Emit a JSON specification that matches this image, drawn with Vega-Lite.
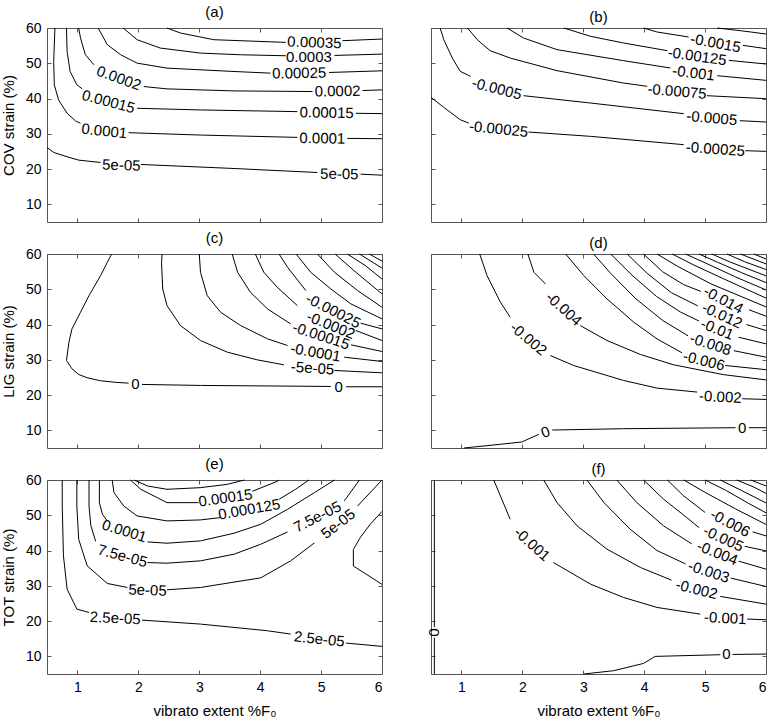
{
"$schema": "https://vega.github.io/schema/vega-lite/v6.json",
"padding": {"left": 0, "top": 4, "right": 4, "bottom": 4},
"config": {
  "font": "Liberation Sans",
  "view": {"stroke": "#555", "strokeWidth": 1},
  "axis": {"grid": false, "domain": false, "tickColor": "#555", "tickSize": -4, "labelFontSize": 14, "labelColor": "#000", "labelPadding": 10, "titleFontSize": 15, "titleFontWeight": "normal", "titleColor": "#000", "titlePadding": 9},
  "title": {"fontSize": 15, "fontWeight": "normal", "offset": 1}
},
"datasets": {
"lines": [
{"p":"a","s":"a1","x":0.5,"y":26.14},{"p":"a","s":"a1","x":0.61,"y":24.72},{"p":"a","s":"a1","x":0.83,"y":23.49},{"p":"a","s":"a1","x":1.02,"y":22.54},{"p":"a","s":"a1","x":1.38,"y":21.88},
{"p":"a","s":"a2","x":2.04,"y":21.31},{"p":"a","s":"a2","x":3.57,"y":20.17},{"p":"a","s":"a2","x":4.94,"y":19.03},
{"p":"a","s":"a3","x":5.65,"y":18.56},{"p":"a","s":"a3","x":6,"y":18.27},
{"p":"a","s":"a4","x":0.63,"y":60},{"p":"a","s":"a4","x":0.61,"y":50.52},{"p":"a","s":"a4","x":0.62,"y":43.88},{"p":"a","s":"a4","x":0.69,"y":39.61},{"p":"a","s":"a4","x":0.83,"y":35.82},{"p":"a","s":"a4","x":0.97,"y":33.64},{"p":"a","s":"a4","x":1.05,"y":32.97},
{"p":"a","s":"a5","x":1.84,"y":30.32},{"p":"a","s":"a5","x":3.02,"y":29.65},{"p":"a","s":"a5","x":4.61,"y":28.99},
{"p":"a","s":"a6","x":5.43,"y":28.71},{"p":"a","s":"a6","x":6,"y":28.61},
{"p":"a","s":"a7","x":0.82,"y":60},{"p":"a","s":"a7","x":0.83,"y":53.36},{"p":"a","s":"a7","x":0.88,"y":47.67},{"p":"a","s":"a7","x":0.99,"y":43.88},{"p":"a","s":"a7","x":1.08,"y":42.74},
{"p":"a","s":"a8","x":1.98,"y":37.24},{"p":"a","s":"a8","x":3.02,"y":36.77},{"p":"a","s":"a8","x":4.61,"y":36.29},
{"p":"a","s":"a9","x":5.57,"y":35.82},{"p":"a","s":"a9","x":6,"y":35.72},
{"p":"a","s":"a10","x":1.02,"y":60},{"p":"a","s":"a10","x":1.05,"y":57.16},{"p":"a","s":"a10","x":1.13,"y":52.41},{"p":"a","s":"a10","x":1.27,"y":49.57},
{"p":"a","s":"a11","x":2.09,"y":43.4},{"p":"a","s":"a11","x":2.47,"y":42.74},{"p":"a","s":"a11","x":3.57,"y":42.17},{"p":"a","s":"a11","x":4.86,"y":41.98},
{"p":"a","s":"a12","x":5.68,"y":42.27},{"p":"a","s":"a12","x":6,"y":42.46},
{"p":"a","s":"a13","x":1.34,"y":60},{"p":"a","s":"a13","x":1.49,"y":55.26},{"p":"a","s":"a13","x":1.71,"y":52.41},{"p":"a","s":"a13","x":1.98,"y":50.04},{"p":"a","s":"a13","x":2.47,"y":48.62},{"p":"a","s":"a13","x":3.57,"y":47.67},{"p":"a","s":"a13","x":4.17,"y":47.2},
{"p":"a","s":"a14","x":5.13,"y":47.39},{"p":"a","s":"a14","x":6,"y":47.86},
{"p":"a","s":"a15","x":1.75,"y":60},{"p":"a","s":"a15","x":1.98,"y":56.68},{"p":"a","s":"a15","x":2.36,"y":54.31},{"p":"a","s":"a15","x":3.02,"y":52.89},{"p":"a","s":"a15","x":3.68,"y":52.41},{"p":"a","s":"a15","x":4.42,"y":52.13},
{"p":"a","s":"a16","x":5.22,"y":52.22},{"p":"a","s":"a16","x":6,"y":52.6},
{"p":"a","s":"a17","x":2.47,"y":60},{"p":"a","s":"a17","x":2.69,"y":58.58},{"p":"a","s":"a17","x":3.24,"y":56.68},{"p":"a","s":"a17","x":4.42,"y":55.92},
{"p":"a","s":"a18","x":5.35,"y":56.4},{"p":"a","s":"a18","x":6,"y":56.87},

{"p":"b","s":"b1","x":0.5,"y":40.34},{"p":"b","s":"b1","x":0.71,"y":37.5},{"p":"b","s":"b1","x":0.98,"y":34.0},{"p":"b","s":"b1","x":1.12,"y":33.06},
{"p":"b","s":"b2","x":2.1,"y":30.51},{"p":"b","s":"b2","x":3.12,"y":29.28},{"p":"b","s":"b2","x":4.65,"y":26.92},
{"p":"b","s":"b3","x":5.66,"y":25.22},{"p":"b","s":"b3","x":6,"y":25.03},
{"p":"b","s":"b4","x":0.65,"y":60},{"p":"b","s":"b4","x":0.71,"y":56.69},{"p":"b","s":"b4","x":0.85,"y":51.49},{"p":"b","s":"b4","x":0.98,"y":47.71},{"p":"b","s":"b4","x":1.15,"y":46.29},
{"p":"b","s":"b5","x":2.02,"y":40.81},{"p":"b","s":"b5","x":3.12,"y":38.73},{"p":"b","s":"b5","x":4.65,"y":35.71},
{"p":"b","s":"b6","x":5.57,"y":33.72},{"p":"b","s":"b6","x":6,"y":33.35},
{"p":"b","s":"b7","x":1.1,"y":60},{"p":"b","s":"b7","x":1.26,"y":56.69},{"p":"b","s":"b7","x":1.47,"y":53.57},{"p":"b","s":"b7","x":1.8,"y":51.49},{"p":"b","s":"b7","x":2.57,"y":47.9},{"p":"b","s":"b7","x":3.66,"y":44.4},{"p":"b","s":"b7","x":4.05,"y":43.46},
{"p":"b","s":"b8","x":5.03,"y":40.81},{"p":"b","s":"b8","x":6,"y":39.96},
{"p":"b","s":"b9","x":1.75,"y":60},{"p":"b","s":"b9","x":2.02,"y":57.16},{"p":"b","s":"b9","x":2.57,"y":53.86},{"p":"b","s":"b9","x":3.66,"y":50.74},{"p":"b","s":"b9","x":4.43,"y":48.66},
{"p":"b","s":"b10","x":5.2,"y":46.48},{"p":"b","s":"b10","x":6,"y":45.16},
{"p":"b","s":"b11","x":2.68,"y":60},{"p":"b","s":"b11","x":3.12,"y":57.64},{"p":"b","s":"b11","x":3.66,"y":55.75},{"p":"b","s":"b11","x":4.38,"y":53.57},
{"p":"b","s":"b12","x":5.39,"y":50.83},{"p":"b","s":"b12","x":6,"y":49.79},
{"p":"b","s":"b13","x":3.99,"y":60},{"p":"b","s":"b13","x":4.21,"y":58.87},{"p":"b","s":"b13","x":4.73,"y":57.45},
{"p":"b","s":"b14","x":5.62,"y":55.09},{"p":"b","s":"b14","x":6,"y":54.14},
{"p":"b","s":"b15","x":5.2,"y":60},{"p":"b","s":"b15","x":5.6,"y":59.2},{"p":"b","s":"b15","x":6,"y":58.3},

{"p":"c","s":"c1","x":1.56,"y":60},{"p":"c","s":"c1","x":1.49,"y":57.64},{"p":"c","s":"c1","x":1.38,"y":53.87},{"p":"c","s":"c1","x":1.19,"y":48.21},{"p":"c","s":"c1","x":1.05,"y":43.49},{"p":"c","s":"c1","x":0.91,"y":38.77},{"p":"c","s":"c1","x":0.86,"y":35.0},{"p":"c","s":"c1","x":0.82,"y":29.81},{"p":"c","s":"c1","x":0.91,"y":27.45},{"p":"c","s":"c1","x":1.02,"y":25.85},{"p":"c","s":"c1","x":1.16,"y":24.91},{"p":"c","s":"c1","x":1.38,"y":24.06},{"p":"c","s":"c1","x":1.65,"y":23.58},{"p":"c","s":"c1","x":1.84,"y":23.4},
{"p":"c","s":"c2","x":2.06,"y":23.02},{"p":"c","s":"c2","x":3.02,"y":22.74},{"p":"c","s":"c2","x":5.16,"y":22.45},
{"p":"c","s":"c3","x":5.41,"y":22.36},{"p":"c","s":"c3","x":6,"y":22.36},
{"p":"c","s":"c4","x":2.39,"y":60},{"p":"c","s":"c4","x":2.38,"y":57.64},{"p":"c","s":"c4","x":2.4,"y":50.09},{"p":"c","s":"c4","x":2.47,"y":45.38},{"p":"c","s":"c4","x":2.69,"y":39.72},{"p":"c","s":"c4","x":3.02,"y":35.47},{"p":"c","s":"c4","x":3.46,"y":32.17},{"p":"c","s":"c4","x":3.95,"y":30.0},{"p":"c","s":"c4","x":4.39,"y":28.58},
{"p":"c","s":"c5","x":5.22,"y":26.98},{"p":"c","s":"c5","x":6,"y":26.32},
{"p":"c","s":"c6","x":3.0,"y":60},{"p":"c","s":"c6","x":3.02,"y":54.81},{"p":"c","s":"c6","x":3.13,"y":48.21},{"p":"c","s":"c6","x":3.35,"y":43.49},{"p":"c","s":"c6","x":3.68,"y":39.72},{"p":"c","s":"c6","x":4.12,"y":35.94},{"p":"c","s":"c6","x":4.45,"y":34.06},
{"p":"c","s":"c7","x":5.38,"y":30.75},{"p":"c","s":"c7","x":6,"y":29.53},
{"p":"c","s":"c8","x":3.54,"y":60},{"p":"c","s":"c8","x":3.63,"y":54.81},{"p":"c","s":"c8","x":3.84,"y":49.15},{"p":"c","s":"c8","x":4.12,"y":44.43},{"p":"c","s":"c8","x":4.5,"y":40.19},
{"p":"c","s":"c9","x":5.49,"y":34.25},{"p":"c","s":"c9","x":6,"y":32.36},
{"p":"c","s":"c10","x":3.92,"y":60},{"p":"c","s":"c10","x":4.06,"y":54.81},{"p":"c","s":"c10","x":4.28,"y":50.57},{"p":"c","s":"c10","x":4.61,"y":45.38},
{"p":"c","s":"c11","x":5.57,"y":38.3},{"p":"c","s":"c11","x":6,"y":35.47},
{"p":"c","s":"c12","x":4.31,"y":60},{"p":"c","s":"c12","x":4.45,"y":56.23},{"p":"c","s":"c12","x":4.75,"y":49.62},
{"p":"c","s":"c13","x":5.65,"y":40.38},{"p":"c","s":"c13","x":6,"y":38.77},
{"p":"c","s":"c14","x":4.59,"y":60},{"p":"c","s":"c14","x":4.83,"y":54.81},{"p":"c","s":"c14","x":5.16,"y":50.09},{"p":"c","s":"c14","x":5.49,"y":45.85},{"p":"c","s":"c14","x":6,"y":41.6},
{"p":"c","s":"c15","x":4.94,"y":60},{"p":"c","s":"c15","x":5.22,"y":54.81},{"p":"c","s":"c15","x":5.6,"y":49.62},{"p":"c","s":"c15","x":6,"y":44.91},
{"p":"c","s":"c16","x":5.23,"y":60},{"p":"c","s":"c16","x":5.54,"y":55.28},{"p":"c","s":"c16","x":6,"y":48.68},
{"p":"c","s":"c17","x":5.43,"y":60},{"p":"c","s":"c17","x":5.72,"y":56.8},{"p":"c","s":"c17","x":6,"y":52.9},
{"p":"c","s":"c18","x":5.63,"y":60},{"p":"c","s":"c18","x":6,"y":56.0},
{"p":"c","s":"c19","x":5.79,"y":60},{"p":"c","s":"c19","x":6,"y":58.0},

{"p":"d","s":"d1","x":1.04,"y":5},{"p":"d","s":"d1","x":1.47,"y":5.75},{"p":"d","s":"d1","x":1.99,"y":6.7},{"p":"d","s":"d1","x":2.27,"y":8.87},
{"p":"d","s":"d2","x":2.49,"y":10.09},{"p":"d","s":"d2","x":3.66,"y":10.47},{"p":"d","s":"d2","x":5.5,"y":10.75},
{"p":"d","s":"d3","x":5.72,"y":10.75},{"p":"d","s":"d3","x":6,"y":10.75},
{"p":"d","s":"d4","x":1.3,"y":60},{"p":"d","s":"d4","x":1.42,"y":53.87},{"p":"d","s":"d4","x":1.64,"y":46.32},{"p":"d","s":"d4","x":1.8,"y":42.08},
{"p":"d","s":"d5","x":2.46,"y":31.23},{"p":"d","s":"d5","x":2.84,"y":28.4},{"p":"d","s":"d5","x":3.66,"y":24.15},{"p":"d","s":"d5","x":4.21,"y":21.98},{"p":"d","s":"d5","x":4.87,"y":20.85},
{"p":"d","s":"d6","x":5.61,"y":18.96},{"p":"d","s":"d6","x":6,"y":18.77},
{"p":"d","s":"d7","x":2.09,"y":60},{"p":"d","s":"d7","x":2.19,"y":54.81},{"p":"d","s":"d7","x":2.38,"y":51.51},
{"p":"d","s":"d8","x":2.95,"y":39.72},{"p":"d","s":"d8","x":3.39,"y":35.47},{"p":"d","s":"d8","x":3.94,"y":31.5},{"p":"d","s":"d8","x":4.48,"y":28.6},{"p":"d","s":"d8","x":5.3,"y":25.8},{"p":"d","s":"d8","x":6,"y":24.3},
{"p":"d","s":"d9","x":2.71,"y":60},{"p":"d","s":"d9","x":3.01,"y":53.87},{"p":"d","s":"d9","x":3.39,"y":47.26},{"p":"d","s":"d9","x":3.83,"y":40.66},{"p":"d","s":"d9","x":4.21,"y":35.94},{"p":"d","s":"d9","x":4.62,"y":32.0},
{"p":"d","s":"d10","x":5.33,"y":28.4},{"p":"d","s":"d10","x":6,"y":27.2},
{"p":"d","s":"d11","x":3.17,"y":60},{"p":"d","s":"d11","x":3.45,"y":54.5},{"p":"d","s":"d11","x":3.85,"y":47.5},{"p":"d","s":"d11","x":4.3,"y":41.2},{"p":"d","s":"d11","x":4.72,"y":36.8},
{"p":"d","s":"d12","x":5.47,"y":32.6},{"p":"d","s":"d12","x":6,"y":30.75},
{"p":"d","s":"d13","x":3.45,"y":60},{"p":"d","s":"d13","x":3.8,"y":54.0},{"p":"d","s":"d13","x":4.2,"y":48.0},{"p":"d","s":"d13","x":4.6,"y":43.5},{"p":"d","s":"d13","x":4.9,"y":41.0},
{"p":"d","s":"d14","x":5.55,"y":36.4},{"p":"d","s":"d14","x":6,"y":34.53},
{"p":"d","s":"d15","x":3.72,"y":60},{"p":"d","s":"d15","x":4.05,"y":54.5},{"p":"d","s":"d15","x":4.45,"y":49.0},{"p":"d","s":"d15","x":4.88,"y":45.3},
{"p":"d","s":"d16","x":5.68,"y":40.0},{"p":"d","s":"d16","x":6,"y":38.3},
{"p":"d","s":"d17","x":3.99,"y":60},{"p":"d","s":"d17","x":4.3,"y":55.0},{"p":"d","s":"d17","x":4.65,"y":51.3},{"p":"d","s":"d17","x":4.93,"y":49.4},
{"p":"d","s":"d18","x":5.72,"y":44.2},{"p":"d","s":"d18","x":6,"y":42.36},
{"p":"d","s":"d19","x":4.21,"y":60},{"p":"d","s":"d19","x":4.55,"y":56.5},{"p":"d","s":"d19","x":5.1,"y":51.5},{"p":"d","s":"d19","x":6,"y":45.0},
{"p":"d","s":"d20","x":4.46,"y":60},{"p":"d","s":"d20","x":4.8,"y":57.0},{"p":"d","s":"d20","x":5.3,"y":53.0},{"p":"d","s":"d20","x":6,"y":47.5},
{"p":"d","s":"d21","x":4.68,"y":60},{"p":"d","s":"d21","x":5.0,"y":57.5},{"p":"d","s":"d21","x":5.5,"y":53.5},{"p":"d","s":"d21","x":6,"y":49.8},
{"p":"d","s":"d22","x":4.9,"y":60},{"p":"d","s":"d22","x":5.2,"y":57.7},{"p":"d","s":"d22","x":5.6,"y":54.7},{"p":"d","s":"d22","x":6,"y":51.9},
{"p":"d","s":"d23","x":5.11,"y":60},{"p":"d","s":"d23","x":5.4,"y":57.8},{"p":"d","s":"d23","x":6,"y":53.8},
{"p":"d","s":"d24","x":5.36,"y":60},{"p":"d","s":"d24","x":5.65,"y":57.8},{"p":"d","s":"d24","x":6,"y":55.6},
{"p":"d","s":"d25","x":5.58,"y":60},{"p":"d","s":"d25","x":6,"y":57.2},
{"p":"d","s":"d26","x":5.8,"y":60},{"p":"d","s":"d26","x":6,"y":58.6},

{"p":"e","s":"e1","x":0.75,"y":60},{"p":"e","s":"e1","x":0.75,"y":52.64},{"p":"e","s":"e1","x":0.77,"y":38.49},{"p":"e","s":"e1","x":0.83,"y":29.06},{"p":"e","s":"e1","x":0.99,"y":23.4},{"p":"e","s":"e1","x":1.19,"y":22.45},
{"p":"e","s":"e2","x":2.06,"y":20.28},{"p":"e","s":"e2","x":3.02,"y":19.15},{"p":"e","s":"e2","x":4.12,"y":17.26},{"p":"e","s":"e2","x":4.5,"y":16.32},
{"p":"e","s":"e3","x":5.41,"y":13.77},{"p":"e","s":"e3","x":6,"y":12.83},
{"p":"e","s":"e4","x":0.99,"y":60},{"p":"e","s":"e4","x":0.99,"y":52.64},{"p":"e","s":"e4","x":1.02,"y":43.21},{"p":"e","s":"e4","x":1.16,"y":35.66},{"p":"e","s":"e4","x":1.49,"y":30.66},{"p":"e","s":"e4","x":1.82,"y":29.53},
{"p":"e","s":"e5","x":2.47,"y":28.87},{"p":"e","s":"e5","x":3.02,"y":29.53},{"p":"e","s":"e5","x":4.01,"y":32.26},{"p":"e","s":"e5","x":4.5,"y":37.08},{"p":"e","s":"e5","x":4.89,"y":42.17},
{"p":"e","s":"e6","x":5.6,"y":52.64},{"p":"e","s":"e6","x":6,"y":60},
{"p":"e","s":"e7","x":1.19,"y":60},{"p":"e","s":"e7","x":1.19,"y":52.64},{"p":"e","s":"e7","x":1.22,"y":47.0},{"p":"e","s":"e7","x":1.3,"y":42.6},
{"p":"e","s":"e8","x":2.15,"y":36.6},{"p":"e","s":"e8","x":2.47,"y":36.42},{"p":"e","s":"e8","x":3.02,"y":37.08},{"p":"e","s":"e8","x":3.57,"y":38.96},{"p":"e","s":"e8","x":4.01,"y":41.79},{"p":"e","s":"e8","x":4.45,"y":45.28},
{"p":"e","s":"e9","x":5.38,"y":54.06},{"p":"e","s":"e9","x":5.63,"y":60},
{"p":"e","s":"e10","x":1.36,"y":60},{"p":"e","s":"e10","x":1.36,"y":53.58},{"p":"e","s":"e10","x":1.41,"y":50.28},{"p":"e","s":"e10","x":1.49,"y":48.4},
{"p":"e","s":"e11","x":2.15,"y":42.45},{"p":"e","s":"e11","x":2.47,"y":42.08},{"p":"e","s":"e11","x":3.02,"y":42.74},{"p":"e","s":"e11","x":3.57,"y":44.91},{"p":"e","s":"e11","x":4.01,"y":47.45},{"p":"e","s":"e11","x":4.45,"y":51.7},{"p":"e","s":"e11","x":4.89,"y":56.42},{"p":"e","s":"e11","x":5.22,"y":60},
{"p":"e","s":"e12","x":1.57,"y":60},{"p":"e","s":"e12","x":1.6,"y":56.42},{"p":"e","s":"e12","x":1.76,"y":52.64},{"p":"e","s":"e12","x":1.98,"y":49.81},{"p":"e","s":"e12","x":2.47,"y":48.4},{"p":"e","s":"e12","x":3.02,"y":48.68},{"p":"e","s":"e12","x":3.35,"y":49.34},
{"p":"e","s":"e13","x":4.31,"y":54.53},{"p":"e","s":"e13","x":4.58,"y":57.36},{"p":"e","s":"e13","x":4.8,"y":60},
{"p":"e","s":"e14","x":1.87,"y":60},{"p":"e","s":"e14","x":2.04,"y":57.36},{"p":"e","s":"e14","x":2.31,"y":55.0},{"p":"e","s":"e14","x":2.47,"y":53.58},{"p":"e","s":"e14","x":2.99,"y":53.58},
{"p":"e","s":"e15","x":3.87,"y":56.79},{"p":"e","s":"e15","x":4.28,"y":59.62},{"p":"e","s":"e15","x":4.31,"y":60},
{"p":"e","s":"e16","x":1.93,"y":60},{"p":"e","s":"e16","x":2.15,"y":58.3},{"p":"e","s":"e16","x":2.47,"y":57.36},{"p":"e","s":"e16","x":3.02,"y":57.83},{"p":"e","s":"e16","x":3.46,"y":58.77},{"p":"e","s":"e16","x":3.74,"y":60},
{"p":"e","s":"e17","x":6,"y":51.1},{"p":"e","s":"e17","x":5.8,"y":47.3},{"p":"e","s":"e17","x":5.64,"y":43.6},{"p":"e","s":"e17","x":5.53,"y":40.3},{"p":"e","s":"e17","x":5.53,"y":35.6},{"p":"e","s":"e17","x":5.75,"y":33.2},{"p":"e","s":"e17","x":6,"y":30.4},

{"p":"f","s":"f1","x":0.555,"y":60},{"p":"f","s":"f1","x":0.555,"y":18.3},
{"p":"f","s":"f2","x":0.555,"y":15.3},{"p":"f","s":"f2","x":0.555,"y":5},
{"p":"f","s":"f3","x":3.01,"y":5.0},{"p":"f","s":"f3","x":3.5,"y":5.94},{"p":"f","s":"f3","x":3.99,"y":8.0},{"p":"f","s":"f3","x":4.18,"y":9.99},{"p":"f","s":"f3","x":5.25,"y":10.47},
{"p":"f","s":"f4","x":5.45,"y":10.55},{"p":"f","s":"f4","x":6,"y":10.65},
{"p":"f","s":"f5","x":1.53,"y":60},{"p":"f","s":"f5","x":1.64,"y":55.47},{"p":"f","s":"f5","x":1.8,"y":48.87},
{"p":"f","s":"f6","x":2.51,"y":36.6},{"p":"f","s":"f6","x":3.12,"y":30.47},{"p":"f","s":"f6","x":3.66,"y":26.7},{"p":"f","s":"f6","x":4.21,"y":23.87},{"p":"f","s":"f6","x":4.92,"y":21.98},
{"p":"f","s":"f7","x":5.69,"y":20.57},{"p":"f","s":"f7","x":6,"y":20.38},
{"p":"f","s":"f8","x":2.35,"y":60},{"p":"f","s":"f8","x":2.57,"y":53.58},{"p":"f","s":"f8","x":2.9,"y":46.98},{"p":"f","s":"f8","x":3.39,"y":40.38},{"p":"f","s":"f8","x":3.94,"y":35.19},{"p":"f","s":"f8","x":4.45,"y":31.6},
{"p":"f","s":"f9","x":5.25,"y":27.0},{"p":"f","s":"f9","x":6,"y":24.81},
{"p":"f","s":"f10","x":3.06,"y":60},{"p":"f","s":"f10","x":3.34,"y":53.58},{"p":"f","s":"f10","x":3.77,"y":46.04},{"p":"f","s":"f10","x":4.21,"y":40.0},{"p":"f","s":"f10","x":4.68,"y":36.2},
{"p":"f","s":"f11","x":5.42,"y":32.2},{"p":"f","s":"f11","x":6,"y":29.81},
{"p":"f","s":"f12","x":3.55,"y":60},{"p":"f","s":"f12","x":3.88,"y":53.58},{"p":"f","s":"f12","x":4.32,"y":46.98},{"p":"f","s":"f12","x":4.78,"y":41.9},
{"p":"f","s":"f13","x":5.55,"y":37.0},{"p":"f","s":"f13","x":6,"y":34.72},
{"p":"f","s":"f14","x":3.99,"y":60},{"p":"f","s":"f14","x":4.32,"y":54.53},{"p":"f","s":"f14","x":4.7,"y":49.34},{"p":"f","s":"f14","x":4.9,"y":46.5},
{"p":"f","s":"f15","x":5.65,"y":41.2},{"p":"f","s":"f15","x":6,"y":39.91},
{"p":"f","s":"f16","x":4.38,"y":60},{"p":"f","s":"f16","x":4.65,"y":55.47},{"p":"f","s":"f16","x":5.0,"y":50.8},
{"p":"f","s":"f17","x":5.78,"y":45.3},{"p":"f","s":"f17","x":6,"y":44.15},
{"p":"f","s":"f18","x":4.65,"y":60},{"p":"f","s":"f18","x":5.0,"y":56.5},{"p":"f","s":"f18","x":5.5,"y":51.8},{"p":"f","s":"f18","x":6,"y":47.4},
{"p":"f","s":"f19","x":5.0,"y":60},{"p":"f","s":"f19","x":5.35,"y":57.0},{"p":"f","s":"f19","x":5.7,"y":53.5},{"p":"f","s":"f19","x":6,"y":50.7},
{"p":"f","s":"f20","x":5.25,"y":60},{"p":"f","s":"f20","x":5.6,"y":57.0},{"p":"f","s":"f20","x":6,"y":53.5},
{"p":"f","s":"f21","x":5.52,"y":60},{"p":"f","s":"f21","x":5.8,"y":58.0},{"p":"f","s":"f21","x":6,"y":56.2},
{"p":"f","s":"f22","x":5.75,"y":60},{"p":"f","s":"f22","x":6,"y":58.3}
],
"labels": [
{"p":"a","k":"a1","t":"5e-05","x":1.72,"y":21.12},
{"p":"a","k":"a2","t":"5e-05","x":5.3,"y":18.6},
{"p":"a","k":"a3","t":"0.0001","x":1.44,"y":30.79},
{"p":"a","k":"a4","t":"0.0001","x":5.02,"y":28.71},
{"p":"a","k":"a5","t":"0.00015","x":1.51,"y":39.14},
{"p":"a","k":"a6","t":"0.00015","x":5.09,"y":36.0},
{"p":"a","k":"a7","t":"0.0002","x":1.68,"y":45.78},
{"p":"a","k":"a8","t":"0.0002","x":5.27,"y":42.1},
{"p":"a","k":"a9","t":"0.00025","x":4.64,"y":47.2},
{"p":"a","k":"a10","t":"0.0003","x":4.8,"y":51.9},
{"p":"a","k":"a11","t":"0.00035","x":4.89,"y":55.9},
{"p":"b","k":"b1","t":"-0.00025","x":1.61,"y":31.36},
{"p":"b","k":"b2","t":"-0.00025","x":5.17,"y":25.69},
{"p":"b","k":"b3","t":"-0.0005","x":1.58,"y":42.8},
{"p":"b","k":"b4","t":"-0.0005","x":5.11,"y":34.48},
{"p":"b","k":"b5","t":"-0.00075","x":4.54,"y":42.04},
{"p":"b","k":"b6","t":"-0.001","x":4.81,"y":47.24},
{"p":"b","k":"b7","t":"-0.00125","x":4.87,"y":51.97},
{"p":"b","k":"b8","t":"-0.0015","x":5.17,"y":55.75},
{"p":"c","k":"c1","t":"0","x":1.95,"y":23.1},
{"p":"c","k":"c2","t":"0","x":5.29,"y":22.3},
{"p":"c","k":"c3","t":"-5e-05","x":4.86,"y":27.64},
{"p":"c","k":"c4","t":"-0.0001","x":4.91,"y":32.1},
{"p":"c","k":"c5","t":"-0.00015","x":5.0,"y":36.8},
{"p":"c","k":"c6","t":"-0.0002","x":5.16,"y":39.8},
{"p":"c","k":"c7","t":"-0.00025","x":5.2,"y":43.9},
{"p":"d","k":"d1","t":"0","x":2.38,"y":9.53},
{"p":"d","k":"d2","t":"0","x":5.61,"y":10.7},
{"p":"d","k":"d3","t":"-0.002","x":2.1,"y":35.94},
{"p":"d","k":"d4","t":"-0.002","x":5.25,"y":19.5},
{"p":"d","k":"d5","t":"-0.004","x":2.68,"y":44.43},
{"p":"d","k":"d6","t":"-0.006","x":4.98,"y":29.72},
{"p":"d","k":"d7","t":"-0.008","x":5.09,"y":34.44},
{"p":"d","k":"d8","t":"-0.01","x":5.2,"y":38.68},
{"p":"d","k":"d9","t":"-0.012","x":5.28,"y":42.6},
{"p":"d","k":"d10","t":"-0.014","x":5.3,"y":47.0},
{"p":"e","k":"e1","t":"2.5e-05","x":1.62,"y":20.85},
{"p":"e","k":"e2","t":"2.5e-05","x":4.97,"y":14.91},
{"p":"e","k":"e3","t":"5e-05","x":2.15,"y":28.8},
{"p":"e","k":"e4","t":"5e-05","x":5.28,"y":47.6},
{"p":"e","k":"e5","t":"7.5e-05","x":1.74,"y":38.49},
{"p":"e","k":"e6","t":"7.5e-05","x":4.94,"y":49.6},
{"p":"e","k":"e7","t":"0.0001","x":1.77,"y":45.57},
{"p":"e","k":"e8","t":"0.000125","x":3.82,"y":51.7},
{"p":"e","k":"e9","t":"0.00015","x":3.43,"y":54.91},
{"p":"f","k":"f1","t":"0","x":0.555,"y":16.8},
{"p":"f","k":"f2","t":"0","x":5.35,"y":10.55},
{"p":"f","k":"f3","t":"-0.001","x":2.16,"y":41.79},
{"p":"f","k":"f4","t":"-0.001","x":5.33,"y":20.85},
{"p":"f","k":"f5","t":"-0.002","x":4.86,"y":29.0},
{"p":"f","k":"f6","t":"-0.003","x":5.06,"y":34.0},
{"p":"f","k":"f7","t":"-0.004","x":5.2,"y":39.3},
{"p":"f","k":"f8","t":"-0.005","x":5.3,"y":43.4},
{"p":"f","k":"f9","t":"-0.006","x":5.41,"y":47.8}
]
},
"columns": 2,
"spacing": {"row": 32, "column": 49},
"bounds": "flush",
"concat": [
{"title": "(a)", "width": 335, "height": 194,
 "layer": [
  {"data": {"name": "lines"}, "transform": [{"filter": "datum.p === 'a'"}],
   "mark": {"type": "line", "color": "#000", "strokeWidth": 1},
   "encoding": {
    "x": {"field": "x", "type": "quantitative", "scale": {"domain": [0.5, 6], "nice": false, "zero": false}, "axis": {"values": [1,2,3,4,5,6], "labels": false, "title": null}},
    "y": {"field": "y", "type": "quantitative", "scale": {"domain": [5, 60], "nice": false, "zero": false}, "axis": {"values": [10,20,30,40,50,60], "title": "COV strain (%)"}},
    "detail": {"field": "s"}, "order": {"value": null}}},
  {"data": {"name": "labels"}, "transform": [{"filter": "datum.p === 'a'"}],
   "mark": {"type": "text", "fontSize": 15, "color": "#000", "align": "center", "baseline": "middle"},
   "encoding": {
    "x": {"field": "x", "type": "quantitative", "axis": {"orient": "top", "values": [1,2,3,4,5,6], "labels": false, "title": null}},
    "y": {"field": "y", "type": "quantitative", "axis": {"orient": "right", "values": [10,20,30,40,50,60], "labels": false, "title": null}},
    "text": {"field": "t"},
    "angle": {"field": "k", "type": "nominal", "legend": null, "scale": {"type": "ordinal", "domain": ["a1","a2","a3","a4","a5","a6","a7","a8","a9","a10","a11","b1","b2","b3","b4","b5","b6","b7","b8","c1","c2","c3","c4","c5","c6","c7","d1","d2","d3","d4","d5","d6","d7","d8","d9","d10","e1","e2","e3","e4","e5","e6","e7","e8","e9","f1","f2","f3","f4","f5","f6","f7","f8","f9"], "range": [2,1,6,1,15,1,20,-1,-1,0,2,6,4,14,5,5,7,8,10,0,0,4,10,18,22,27,-20,0,40,3,42,14,18,22,25,28,3,6,2,-38,15,-27,17,-10,-8,90,0,42,3,14,18,22,25,28]}}}}
 ],
 "resolve": {"axis": {"x": "independent", "y": "independent"}}},
{"title": "(b)", "width": 335, "height": 194,
 "layer": [
  {"data": {"name": "lines"}, "transform": [{"filter": "datum.p === 'b'"}],
   "mark": {"type": "line", "color": "#000", "strokeWidth": 1},
   "encoding": {
    "x": {"field": "x", "type": "quantitative", "scale": {"domain": [0.5, 6], "nice": false, "zero": false}, "axis": {"values": [1,2,3,4,5,6], "labels": false, "title": null}},
    "y": {"field": "y", "type": "quantitative", "scale": {"domain": [5, 60], "nice": false, "zero": false}, "axis": {"values": [10,20,30,40,50,60], "labels": false, "title": null}},
    "detail": {"field": "s"}, "order": {"value": null}}},
  {"data": {"name": "labels"}, "transform": [{"filter": "datum.p === 'b'"}],
   "mark": {"type": "text", "fontSize": 15, "color": "#000", "align": "center", "baseline": "middle"},
   "encoding": {
    "x": {"field": "x", "type": "quantitative", "axis": {"orient": "top", "values": [1,2,3,4,5,6], "labels": false, "title": null}},
    "y": {"field": "y", "type": "quantitative", "axis": {"orient": "right", "values": [10,20,30,40,50,60], "labels": false, "title": null}},
    "text": {"field": "t"},
    "angle": {"field": "k", "type": "nominal", "legend": null, "scale": {"type": "ordinal", "domain": ["a1","a2","a3","a4","a5","a6","a7","a8","a9","a10","a11","b1","b2","b3","b4","b5","b6","b7","b8","c1","c2","c3","c4","c5","c6","c7","d1","d2","d3","d4","d5","d6","d7","d8","d9","d10","e1","e2","e3","e4","e5","e6","e7","e8","e9","f1","f2","f3","f4","f5","f6","f7","f8","f9"], "range": [2,1,6,1,15,1,20,-1,-1,0,2,6,4,14,5,5,7,8,10,0,0,4,10,18,22,27,-20,0,40,3,42,14,18,22,25,28,3,6,2,-38,15,-27,17,-10,-8,90,0,42,3,14,18,22,25,28]}}}}
 ],
 "resolve": {"axis": {"x": "independent", "y": "independent"}}},
{"title": "(c)", "width": 335, "height": 194,
 "layer": [
  {"data": {"name": "lines"}, "transform": [{"filter": "datum.p === 'c'"}],
   "mark": {"type": "line", "color": "#000", "strokeWidth": 1},
   "encoding": {
    "x": {"field": "x", "type": "quantitative", "scale": {"domain": [0.5, 6], "nice": false, "zero": false}, "axis": {"values": [1,2,3,4,5,6], "labels": false, "title": null}},
    "y": {"field": "y", "type": "quantitative", "scale": {"domain": [5, 60], "nice": false, "zero": false}, "axis": {"values": [10,20,30,40,50,60], "title": "LIG strain (%)"}},
    "detail": {"field": "s"}, "order": {"value": null}}},
  {"data": {"name": "labels"}, "transform": [{"filter": "datum.p === 'c'"}],
   "mark": {"type": "text", "fontSize": 15, "color": "#000", "align": "center", "baseline": "middle"},
   "encoding": {
    "x": {"field": "x", "type": "quantitative", "axis": {"orient": "top", "values": [1,2,3,4,5,6], "labels": false, "title": null}},
    "y": {"field": "y", "type": "quantitative", "axis": {"orient": "right", "values": [10,20,30,40,50,60], "labels": false, "title": null}},
    "text": {"field": "t"},
    "angle": {"field": "k", "type": "nominal", "legend": null, "scale": {"type": "ordinal", "domain": ["a1","a2","a3","a4","a5","a6","a7","a8","a9","a10","a11","b1","b2","b3","b4","b5","b6","b7","b8","c1","c2","c3","c4","c5","c6","c7","d1","d2","d3","d4","d5","d6","d7","d8","d9","d10","e1","e2","e3","e4","e5","e6","e7","e8","e9","f1","f2","f3","f4","f5","f6","f7","f8","f9"], "range": [2,1,6,1,15,1,20,-1,-1,0,2,6,4,14,5,5,7,8,10,0,0,4,10,18,22,27,-20,0,40,3,42,14,18,22,25,28,3,6,2,-38,15,-27,17,-10,-8,90,0,42,3,14,18,22,25,28]}}}}
 ],
 "resolve": {"axis": {"x": "independent", "y": "independent"}}},
{"title": "(d)", "width": 335, "height": 194,
 "layer": [
  {"data": {"name": "lines"}, "transform": [{"filter": "datum.p === 'd'"}],
   "mark": {"type": "line", "color": "#000", "strokeWidth": 1},
   "encoding": {
    "x": {"field": "x", "type": "quantitative", "scale": {"domain": [0.5, 6], "nice": false, "zero": false}, "axis": {"values": [1,2,3,4,5,6], "labels": false, "title": null}},
    "y": {"field": "y", "type": "quantitative", "scale": {"domain": [5, 60], "nice": false, "zero": false}, "axis": {"values": [10,20,30,40,50,60], "labels": false, "title": null}},
    "detail": {"field": "s"}, "order": {"value": null}}},
  {"data": {"name": "labels"}, "transform": [{"filter": "datum.p === 'd'"}],
   "mark": {"type": "text", "fontSize": 15, "color": "#000", "align": "center", "baseline": "middle"},
   "encoding": {
    "x": {"field": "x", "type": "quantitative", "axis": {"orient": "top", "values": [1,2,3,4,5,6], "labels": false, "title": null}},
    "y": {"field": "y", "type": "quantitative", "axis": {"orient": "right", "values": [10,20,30,40,50,60], "labels": false, "title": null}},
    "text": {"field": "t"},
    "angle": {"field": "k", "type": "nominal", "legend": null, "scale": {"type": "ordinal", "domain": ["a1","a2","a3","a4","a5","a6","a7","a8","a9","a10","a11","b1","b2","b3","b4","b5","b6","b7","b8","c1","c2","c3","c4","c5","c6","c7","d1","d2","d3","d4","d5","d6","d7","d8","d9","d10","e1","e2","e3","e4","e5","e6","e7","e8","e9","f1","f2","f3","f4","f5","f6","f7","f8","f9"], "range": [2,1,6,1,15,1,20,-1,-1,0,2,6,4,14,5,5,7,8,10,0,0,4,10,18,22,27,-20,0,40,3,42,14,18,22,25,28,3,6,2,-38,15,-27,17,-10,-8,90,0,42,3,14,18,22,25,28]}}}}
 ],
 "resolve": {"axis": {"x": "independent", "y": "independent"}}},
{"title": "(e)", "width": 335, "height": 194,
 "layer": [
  {"data": {"name": "lines"}, "transform": [{"filter": "datum.p === 'e'"}],
   "mark": {"type": "line", "color": "#000", "strokeWidth": 1},
   "encoding": {
    "x": {"field": "x", "type": "quantitative", "scale": {"domain": [0.5, 6], "nice": false, "zero": false}, "axis": {"values": [1,2,3,4,5,6], "title": "vibrato extent %F₀", "titlePadding": 9}},
    "y": {"field": "y", "type": "quantitative", "scale": {"domain": [5, 60], "nice": false, "zero": false}, "axis": {"values": [10,20,30,40,50,60], "title": "TOT strain (%)"}},
    "detail": {"field": "s"}, "order": {"value": null}}},
  {"data": {"name": "labels"}, "transform": [{"filter": "datum.p === 'e'"}],
   "mark": {"type": "text", "fontSize": 15, "color": "#000", "align": "center", "baseline": "middle"},
   "encoding": {
    "x": {"field": "x", "type": "quantitative", "axis": {"orient": "top", "values": [1,2,3,4,5,6], "labels": false, "title": null}},
    "y": {"field": "y", "type": "quantitative", "axis": {"orient": "right", "values": [10,20,30,40,50,60], "labels": false, "title": null}},
    "text": {"field": "t"},
    "angle": {"field": "k", "type": "nominal", "legend": null, "scale": {"type": "ordinal", "domain": ["a1","a2","a3","a4","a5","a6","a7","a8","a9","a10","a11","b1","b2","b3","b4","b5","b6","b7","b8","c1","c2","c3","c4","c5","c6","c7","d1","d2","d3","d4","d5","d6","d7","d8","d9","d10","e1","e2","e3","e4","e5","e6","e7","e8","e9","f1","f2","f3","f4","f5","f6","f7","f8","f9"], "range": [2,1,6,1,15,1,20,-1,-1,0,2,6,4,14,5,5,7,8,10,0,0,4,10,18,22,27,-20,0,40,3,42,14,18,22,25,28,3,6,2,-38,15,-27,17,-10,-8,90,0,42,3,14,18,22,25,28]}}}}
 ],
 "resolve": {"axis": {"x": "independent", "y": "independent"}}},
{"title": "(f)", "width": 335, "height": 194,
 "layer": [
  {"data": {"name": "lines"}, "transform": [{"filter": "datum.p === 'f'"}],
   "mark": {"type": "line", "color": "#000", "strokeWidth": 1},
   "encoding": {
    "x": {"field": "x", "type": "quantitative", "scale": {"domain": [0.5, 6], "nice": false, "zero": false}, "axis": {"values": [1,2,3,4,5,6], "title": "vibrato extent %F₀", "titlePadding": 9}},
    "y": {"field": "y", "type": "quantitative", "scale": {"domain": [5, 60], "nice": false, "zero": false}, "axis": {"values": [10,20,30,40,50,60], "labels": false, "title": null}},
    "detail": {"field": "s"}, "order": {"value": null}}},
  {"data": {"name": "labels"}, "transform": [{"filter": "datum.p === 'f'"}],
   "mark": {"type": "text", "fontSize": 15, "color": "#000", "align": "center", "baseline": "middle"},
   "encoding": {
    "x": {"field": "x", "type": "quantitative", "axis": {"orient": "top", "values": [1,2,3,4,5,6], "labels": false, "title": null}},
    "y": {"field": "y", "type": "quantitative", "axis": {"orient": "right", "values": [10,20,30,40,50,60], "labels": false, "title": null}},
    "text": {"field": "t"},
    "angle": {"field": "k", "type": "nominal", "legend": null, "scale": {"type": "ordinal", "domain": ["a1","a2","a3","a4","a5","a6","a7","a8","a9","a10","a11","b1","b2","b3","b4","b5","b6","b7","b8","c1","c2","c3","c4","c5","c6","c7","d1","d2","d3","d4","d5","d6","d7","d8","d9","d10","e1","e2","e3","e4","e5","e6","e7","e8","e9","f1","f2","f3","f4","f5","f6","f7","f8","f9"], "range": [2,1,6,1,15,1,20,-1,-1,0,2,6,4,14,5,5,7,8,10,0,0,4,10,18,22,27,-20,0,40,3,42,14,18,22,25,28,3,6,2,-38,15,-27,17,-10,-8,90,0,42,3,14,18,22,25,28]}}}}
 ],
 "resolve": {"axis": {"x": "independent", "y": "independent"}}}
]
}
